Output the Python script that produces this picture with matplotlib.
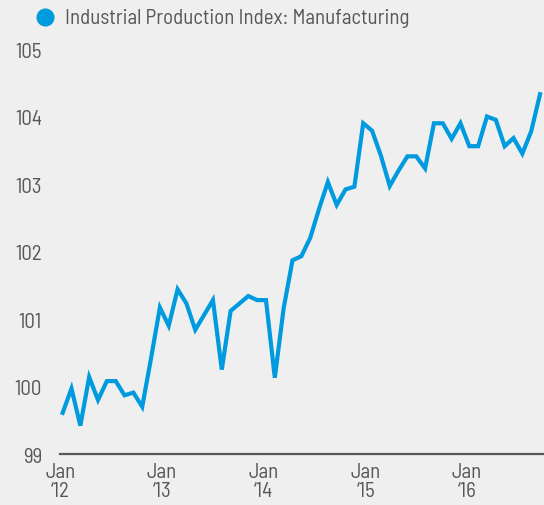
"""Industrial Production Index: Manufacturing, monthly line, Jan 2012 - Jul 2016."""

import matplotlib.pyplot as plt
from matplotlib import font_manager
from matplotlib.lines import Line2D

# monthly values, Jan 2012 .. Jul 2016
ipi_manufacturing = [
    99.61, 99.97, 99.42, 100.14, 99.80, 100.08, 100.08, 99.87, 99.91, 99.70, 100.42, 101.17,
    100.90, 101.44, 101.23, 100.84, 101.06, 101.28, 100.25, 101.12, 101.23, 101.34, 101.28, 101.28,
    100.13, 101.16, 101.87, 101.93, 102.20, 102.63, 103.03, 102.69, 102.92, 102.96, 103.90, 103.79,
    103.42, 102.97, 103.20, 103.41, 103.41, 103.23, 103.90, 103.90, 103.67, 103.90, 103.56, 103.56,
    104.00, 103.95, 103.56, 103.68, 103.45, 103.78, 104.33,
]
year_labels = ["Jan\n\u201812", "Jan\n\u201813", "Jan\n\u201814", "Jan\n\u201815", "Jan\n\u201816"]
y_ticks = [99, 100, 101, 102, 103, 104, 105]
series_name = "Industrial Production Index: Manufacturing"

names = {f.name for f in font_manager.fontManager.ttflist}
family = next((f for f in ["Barlow Semi Condensed", "Barlow Condensed", "Archivo Narrow"] if f in names),
              "DejaVu Sans")
plt.rcParams["font.family"] = [family, "DejaVu Sans"]

BG = "#efefef"
BLUE = "#009ade"
TXT = "#555759"
FS = 15

fig = plt.figure(figsize=(5.44, 5.06), dpi=100, facecolor=BG)
ax = fig.add_axes([60 / 544, 51 / 506, 484 / 544, 405 / 506], facecolor=BG)

x = list(range(len(ipi_manufacturing)))
ax.plot(x, ipi_manufacturing, color=BLUE, lw=3.0, solid_joinstyle="miter", clip_on=False)

ax.set_xlim(-0.3, 54.45)
ax.set_ylim(99, 105)
ax.set_yticks(y_ticks)
ax.set_yticklabels([str(v) for v in y_ticks])
# label positions as laid out in the original (slightly compressed vs. the data)
ax.set_xticks([-0.2, 11.25, 22.75, 34.3, 45.75])
ax.set_xticklabels(year_labels, linespacing=0.95)

ax.tick_params(axis="y", length=0, pad=13, labelsize=FS, labelcolor=TXT)
ax.tick_params(axis="x", length=0, pad=6, labelsize=FS, labelcolor=TXT)
for s in ["top", "right", "left"]:
    ax.spines[s].set_visible(False)
ax.spines["bottom"].set_color(TXT)
ax.spines["bottom"].set_linewidth(1.6)

# legend
fig.add_artist(Line2D([45 / 544], [1 - 18 / 506], marker="o", markersize=12,
                      color=BLUE, transform=fig.transFigure))
fig.text(65 / 544, 1 - 18 / 506, series_name, fontsize=FS, color=TXT, va="center", ha="left")

fig.savefig("out.png", dpi=100, facecolor=BG)
